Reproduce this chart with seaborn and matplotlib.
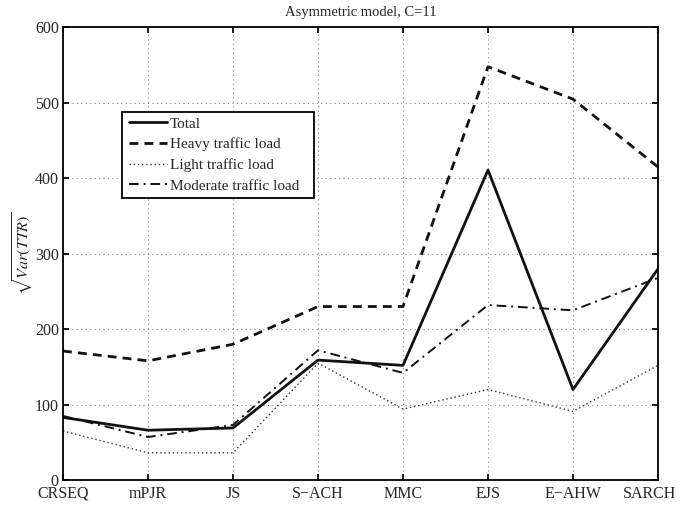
import matplotlib
matplotlib.use("Agg")
import matplotlib.pyplot as plt
import matplotlib.transforms as mtrans
from matplotlib.patches import Rectangle
import seaborn as sns
import pandas as pd

categories = ["CRSEQ", "mPJR", "JS", "S\u2212ACH", "MMC", "EJS", "E\u2212AHW", "SARCH"]
total = [83, 66, 69, 159, 152, 411, 120, 280]
heavy = [171, 158, 180, 230, 230, 548, 505, 415]
light = [65, 36, 36, 155, 94, 120, 91, 152]
moderate = [85, 57, 73, 172, 142, 232, 225, 268]
series_names = ["Total", "Heavy traffic load", "Light traffic load", "Moderate traffic load"]
yticks = [0, 100, 200, 300, 400, 500, 600]

sns.set_theme(style="white")
plt.rcParams['font.family'] = ['Liberation Serif', 'DejaVu Serif']
plt.rcParams['mathtext.fontset'] = 'stix'

frames = []
for name, vals in zip(series_names, [total, heavy, light, moderate]):
    frames.append(pd.DataFrame({"cat": categories, "pos": range(len(categories)), "val": vals, "series": name}))
df = pd.concat(frames, ignore_index=True)

W, H = 690, 505
fig = plt.figure(figsize=(W / 100, H / 100), dpi=100)
ax = fig.add_axes([63 / W, 1 - 480 / H, (658 - 63) / W, (480 - 27.5) / H])

styles = {
    "Total": dict(linestyle="-", linewidth=2.0, color="#111111"),
    "Heavy traffic load": dict(linestyle=(0, (3.2, 2.2)), linewidth=2.0, color="#111111"),
    "Light traffic load": dict(linestyle=(0, (1, 2)), linewidth=1.0, color="#333333"),
    "Moderate traffic load": dict(linestyle=(0, (5, 2.5, 1, 2.5)), linewidth=1.4, color="#111111"),
}
for name in series_names:
    sub = df[df["series"] == name]
    sns.lineplot(data=sub, x="pos", y="val", ax=ax, label=name, **styles[name])

ax.set_xlim(0, len(categories) - 1)
ax.set_ylim(0, 600)
ax.set_xticks(range(len(categories)))
ax.set_xticklabels(categories, fontsize=11.5)
ax.set_yticks(yticks)
ax.set_yticklabels([str(t) for t in yticks], fontsize=11.5)
ax.grid(True, linestyle=(0, (1, 3)), color="#888888", linewidth=0.8)
ax.tick_params(direction="in", length=4, color="black", pad=3,
               top=True, right=True, bottom=True, left=True)
ax.tick_params(axis="x", pad=4)
for s in ax.spines.values():
    s.set_color("black")
    s.set_linewidth(1.3)
ax.set_xlabel("")
ax.set_ylabel(r"$\sqrt{Var(TTR)}$", fontsize=11.5, labelpad=0)
ax.set_title("Asymmetric model, C=11", fontsize=10.5, pad=8)

# shift last x label slightly left as in reference
last = ax.get_xticklabels()[-1]
last.set_transform(last.get_transform() + mtrans.ScaledTranslation(-8 / 100, 0, fig.dpi_scale_trans))

# legend box (MATLAB style, with extra room on the right)
box = Rectangle((122 / W, 1 - 198 / H), 192 / W, 86 / H, transform=fig.transFigure,
                facecolor="white", edgecolor="black", linewidth=1.3, zorder=4.9)
fig.patches.append(box)

leg = fig.legend(*ax.get_legend_handles_labels(), loc="upper left",
                 bbox_to_anchor=(129 / W, 1 - 117 / H), bbox_transform=fig.transFigure,
                 fontsize=11, frameon=False, borderpad=0,
                 labelspacing=0.45, handlelength=2.5, handletextpad=0.2, borderaxespad=0)
leg.set_zorder(6)
if ax.get_legend() is not None:
    ax.get_legend().remove()

fig.savefig("out.png", dpi=100)
